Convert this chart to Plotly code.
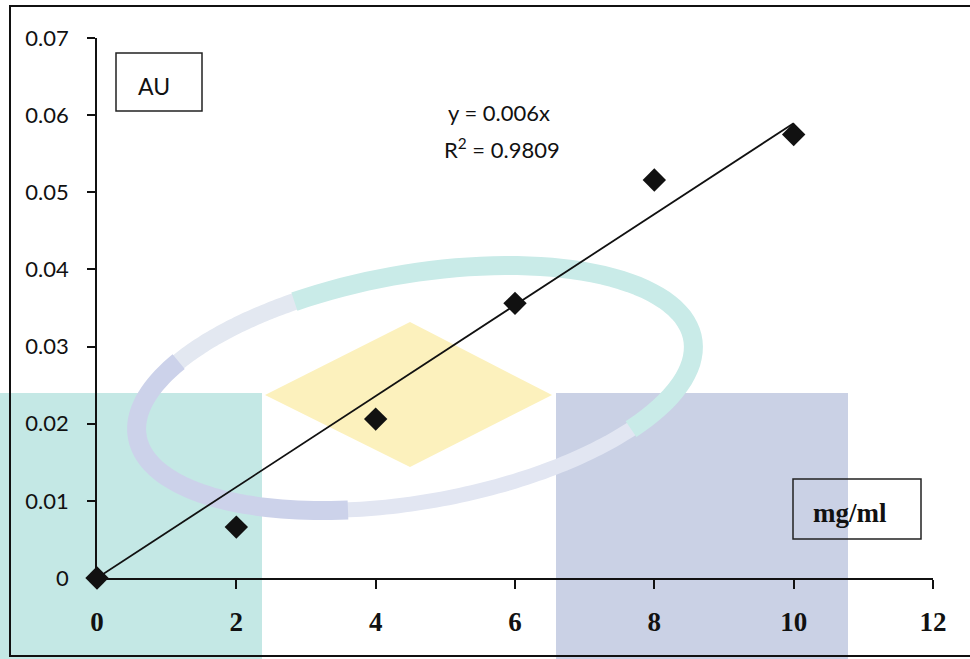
import numpy as np
import plotly.graph_objects as go

# ---- data ----
conc = [0, 2, 4, 6, 8, 10]                       # mg/ml
absorb = [0.0, 0.0066, 0.0206, 0.0356, 0.0516, 0.0575]  # AU
x_ticks = [0, 2, 4, 6, 8, 10, 12]
y_ticks = [0, 0.01, 0.02, 0.03, 0.04, 0.05, 0.06, 0.07]
y_tick_text = ["0", "0.01", "0.02", "0.03", "0.04", "0.05", "0.06", "0.07"]
eq_text = "y = 0.006x"
r2_text = "R<sup>2</sup> = 0.9809"

W, H = 970, 659
L, R, T, B = 97, 37, 38, 81
PW, PH = W - L - R, H - T - B


def px(x):
    return (x - L) / PW


def py(y):
    return (T + PH - y) / PH


# trendline through origin (least squares)
xa = np.array(conc, float)
ya = np.array(absorb, float)
slope = (xa * ya).sum() / (xa * xa).sum()
tx = [0, 10]
ty = [0, slope * 10]

fig = go.Figure()
fig.add_trace(go.Scatter(x=tx, y=ty, mode="lines",
                         line=dict(color="#111111", width=1.8),
                         hoverinfo="skip", showlegend=False, cliponaxis=False))
fig.add_trace(go.Scatter(x=conc, y=absorb, mode="markers",
                         marker=dict(symbol="diamond", size=18, color="#111111",
                                     line=dict(width=0)),
                         showlegend=False, cliponaxis=False))

shapes = []
# watermark: teal and blue blocks
shapes.append(dict(type="rect", xref="paper", yref="paper", layer="below",
                   x0=px(-2), x1=px(262), y0=py(393), y1=py(662),
                   fillcolor="#c4e8e5", line=dict(width=0)))
shapes.append(dict(type="rect", xref="paper", yref="paper", layer="below",
                   x0=px(556), x1=px(848), y0=py(393), y1=py(662),
                   fillcolor="#cad1e5", line=dict(width=0)))
# yellow diamond
dpath = "M {},{} L {},{} L {},{} L {},{} Z".format(
    px(265), py(395), px(410), py(322), px(552), py(395), px(410), py(467))
shapes.append(dict(type="path", xref="paper", yref="paper", layer="below",
                   path=dpath, fillcolor="#fcf1bd", line=dict(width=0)))
# ring (tilted ellipse)
cx, cy, a, b, rot = 415, 388, 282, 114, np.deg2rad(-10)


def ring_path(t0, t1):
    t = np.linspace(t0, t1, 60)
    ex = a * np.cos(t)
    ey = b * np.sin(t)
    X = cx + ex * np.cos(rot) - ey * np.sin(rot)
    Y = cy + ex * np.sin(rot) + ey * np.cos(rot)
    pts = ["{:.4f},{:.4f}".format(px(u), py(v)) for u, v in zip(X, Y)]
    return "M " + " L ".join(pts)


ring_segments = [
    (np.pi * 0.20, np.pi * 0.62, "#e2e6f2", 15),
    (np.pi * 1.18, np.pi * 1.40, "#e3e8f1", 17),
    (np.pi * 0.60, np.pi * 1.20, "#ccd2ea", 19),
    (np.pi * 1.38, np.pi * 2.24, "#c9ebe8", 19),
]
for t0, t1, col, wd in ring_segments:
    shapes.append(dict(type="path", xref="paper", yref="paper", layer="below",
                       path=ring_path(t0, t1), line=dict(color=col, width=wd)))
# outer border
shapes.append(dict(type="rect", xref="paper", yref="paper",
                   x0=px(10), x1=px(990), y0=py(6), y1=py(656),
                   line=dict(color="#111111", width=2)))
# label boxes
shapes.append(dict(type="rect", xref="paper", yref="paper",
                   x0=px(116), x1=px(202), y0=py(53), y1=py(111),
                   fillcolor="white", line=dict(color="#222222", width=1.5)))
shapes.append(dict(type="rect", xref="paper", yref="paper",
                   x0=px(793), x1=px(921), y0=py(479), y1=py(539),
                   fillcolor="rgba(0,0,0,0)", line=dict(color="#222222", width=1.5)))

annotations = [
    dict(xref="paper", yref="paper", x=px(154), y=py(86), text="AU",
         xanchor="center", yanchor="middle", showarrow=False,
         font=dict(family="Lato", size=23, color="#111111")),
    dict(xref="paper", yref="paper", x=px(850), y=py(513), text="<b>mg/ml</b>",
         xanchor="center", yanchor="middle", showarrow=False,
         font=dict(family="Liberation Serif", size=27, color="#111111")),
    dict(xref="paper", yref="paper", x=px(446), y=py(112), text=eq_text,
         xanchor="left", yanchor="middle", showarrow=False,
         font=dict(family="Lato", size=22, color="#111111")),
    dict(xref="paper", yref="paper", x=px(442), y=py(148), text=r2_text,
         xanchor="left", yanchor="middle", showarrow=False,
         font=dict(family="Lato", size=22, color="#111111")),
]

fig.update_layout(
    width=W, height=H,
    margin=dict(l=L, r=R, t=T, b=B, pad=0),
    paper_bgcolor="white", plot_bgcolor="rgba(0,0,0,0)",
    shapes=shapes, annotations=annotations, showlegend=False,
)
fig.update_xaxes(range=[0, 12], tickvals=x_ticks,
                 ticktext=["<b>{}</b>".format(v) for v in x_ticks],
                 showgrid=False, zeroline=False, showline=True, linecolor="#111111",
                 linewidth=2, ticks="outside", ticklen=9, tickwidth=1.5, tickcolor="#111111",
                 tickfont=dict(family="Liberation Serif", size=27, color="#111111"),
                 ticklabelstandoff=10)
fig.update_yaxes(range=[0, 0.07], tickvals=y_ticks, ticktext=y_tick_text,
                 showgrid=False, zeroline=False, showline=True, linecolor="#111111",
                 linewidth=1.5, ticks="outside", ticklen=8, tickwidth=1.5, tickcolor="#111111",
                 tickfont=dict(family="Lato", size=22, color="#111111"),
                 ticklabelstandoff=14)

fig.write_html("out.html", config={"displayModeBar": False},
               post_script="document.body.style.margin='0px';"
                           "document.body.style.overflow='hidden';")
